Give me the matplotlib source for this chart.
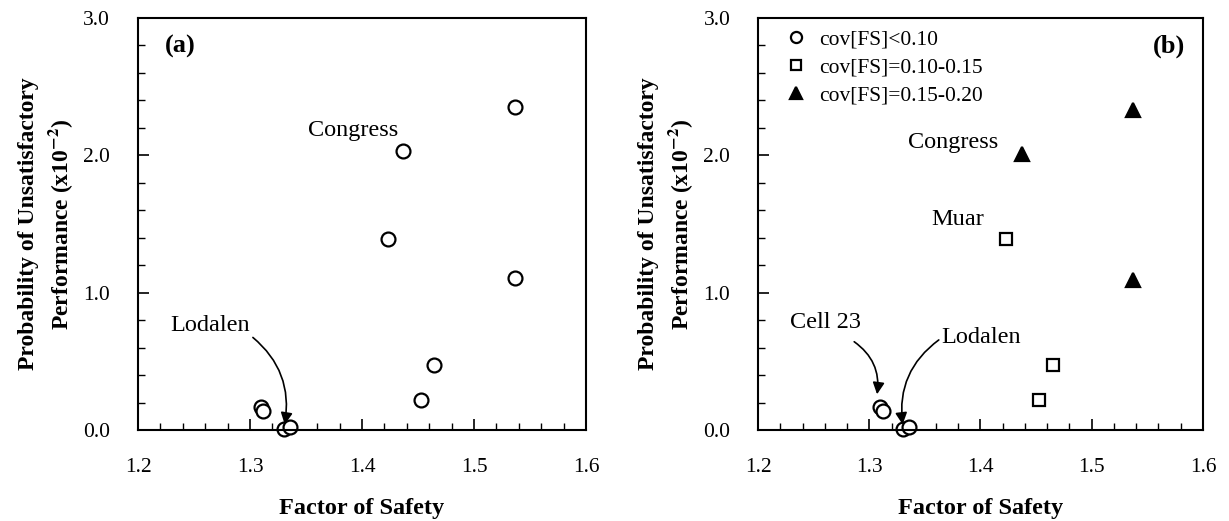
import matplotlib
matplotlib.use("Agg")
import matplotlib.pyplot as plt
from matplotlib.ticker import MultipleLocator

plt.rcParams['font.family'] = ['Liberation Serif', 'DejaVu Serif']
plt.rcParams['mathtext.fontset'] = 'stix'

# Panel (a) data: all points as hollow circles
fs_all = [1.310, 1.312, 1.330, 1.336, 1.423, 1.437, 1.453, 1.464, 1.537, 1.537]
pu_all = [0.17, 0.14, 0.01, 0.02, 1.39, 2.03, 0.22, 0.47, 2.35, 1.11]

# Panel (b) data grouped by cov[FS]
fs_low = [1.310, 1.312, 1.330, 1.336]
pu_low = [0.17, 0.14, 0.01, 0.02]
fs_mid = [1.423, 1.453, 1.465]
pu_mid = [1.39, 0.22, 0.47]
fs_high = [1.437, 1.537, 1.537]
pu_high = [2.01, 2.33, 1.09]

legend_labels = ['cov[FS]<0.10', 'cov[FS]=0.10-0.15', 'cov[FS]=0.15-0.20']
xticks = [1.2, 1.3, 1.4, 1.5, 1.6]
yticks = [0.0, 1.0, 2.0, 3.0]

fig = plt.figure(figsize=(12.29, 5.21), dpi=100)
axa = fig.add_axes([0.1123, 0.1747, 0.3645, 0.791])
axb = fig.add_axes([0.6168, 0.1747, 0.3620, 0.791])

ylabel = 'Probability of Unsatisfactory\nPerformance (x10$^{\\mathbf{-2}}$)'

for ax in (axa, axb):
    ax.set_xlim(1.2, 1.6)
    ax.set_ylim(0, 3.0)
    ax.set_xticks(xticks)
    ax.set_xticklabels([f'{v:.1f}' for v in xticks])
    ax.set_yticks(yticks)
    ax.set_yticklabels([f'{v:.1f}' for v in yticks])
    ax.xaxis.set_minor_locator(MultipleLocator(0.02))
    ax.yaxis.set_minor_locator(MultipleLocator(0.2))
    ax.tick_params(which='both', direction='in', top=False, right=False, labelsize=15.5)
    ax.tick_params(axis='x', which='both', pad=20)
    ax.tick_params(axis='y', which='both', pad=20)
    ax.tick_params(which='major', length=8, width=1.2)
    ax.tick_params(which='minor', length=5, width=1.0)
    for sp in ax.spines.values():
        sp.set_linewidth(1.5)
    ax.set_xlabel('Factor of Safety', fontsize=17.5, fontweight='bold', labelpad=15)
    ax.set_ylabel(ylabel, fontsize=17, fontweight='bold', labelpad=6, linespacing=1.3)

mk = dict(markersize=10, markeredgewidth=1.6, linestyle='none', clip_on=False)
fs_txt = 17.5

# Panel (a)
axa.plot(fs_all, pu_all, marker='o', markerfacecolor='white', markeredgecolor='black', **mk)
axa.text(0.06, 0.93, '(a)', transform=axa.transAxes, fontsize=19, fontweight='bold', va='center')
axa.text(1.352, 2.18, 'Congress', fontsize=fs_txt, va='center')
axa.annotate('Lodalen', xy=(1.331, 0.04), xytext=(1.229, 0.76), fontsize=fs_txt, va='center',
             arrowprops=dict(arrowstyle='-|>', color='black', lw=1.2,
                             connectionstyle='arc3,rad=-0.3', shrinkA=0, shrinkB=0,
                             relpos=(0.98, 0.1)))

# Panel (b)
axb.plot(fs_low, pu_low, marker='o', markerfacecolor='white', markeredgecolor='black',
         label=legend_labels[0], **mk)
axb.plot(fs_mid, pu_mid, marker='s', markerfacecolor='white', markeredgecolor='black',
         label=legend_labels[1], **dict(mk, markersize=9))
axb.plot(fs_high, pu_high, marker='^', markerfacecolor='black', markeredgecolor='black',
         label=legend_labels[2], **mk)
leg = axb.legend(loc='upper left', frameon=False, fontsize=15.5, handletextpad=0.45,
                 borderaxespad=0.25, borderpad=0.3, labelspacing=0.36, markerscale=0.8,
                 handlelength=1.2, bbox_to_anchor=(0.03, 1.0))
axb.text(0.96, 0.93, '(b)', transform=axb.transAxes, fontsize=19, fontweight='bold',
         va='center', ha='right')
axb.text(1.335, 2.09, 'Congress', fontsize=fs_txt, va='center')
axb.text(1.356, 1.53, 'Muar', fontsize=fs_txt, va='center')
axb.annotate('Cell 23', xy=(1.307, 0.26), xytext=(1.229, 0.78), fontsize=fs_txt, va='center',
             arrowprops=dict(arrowstyle='-|>', color='black', lw=1.2,
                             connectionstyle='arc3,rad=-0.3', shrinkA=0, shrinkB=0,
                             relpos=(0.9, -0.4)))
axb.annotate('Lodalen', xy=(1.330, 0.04), xytext=(1.365, 0.67), fontsize=fs_txt, va='center',
             arrowprops=dict(arrowstyle='-|>', color='black', lw=1.2,
                             connectionstyle='arc3,rad=0.3', shrinkA=0, shrinkB=0,
                             relpos=(0.0, 0.5)))

fig.savefig('out.png', dpi=100)
